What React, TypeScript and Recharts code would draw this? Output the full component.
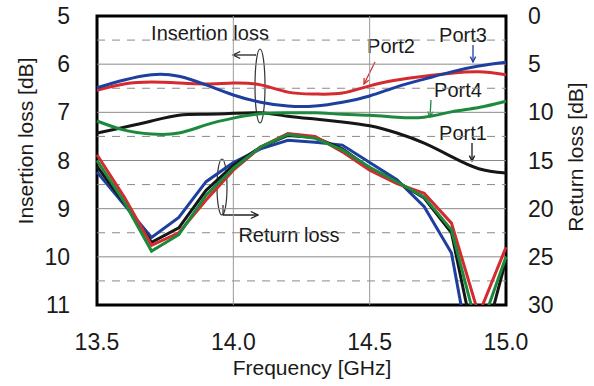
import { LineChart, Line, XAxis, YAxis, ReferenceLine, ReferenceArea } from "recharts";

// frequency points (GHz)
const freq = [13.5, 13.6, 13.7, 13.8, 13.9, 14.0, 14.1, 14.2, 14.3, 14.4, 14.5, 14.6, 14.7, 14.8, 14.9, 15.0];

// insertion loss [dB], left axis
const ilPort1 = [7.43, 7.31, 7.18, 7.06, 7.04, 7.02, 7.01, 7.08, 7.14, 7.2, 7.28, 7.43, 7.64, 7.92, 8.17, 8.26];
const ilPort2 = [6.54, 6.41, 6.37, 6.39, 6.41, 6.39, 6.43, 6.58, 6.62, 6.6, 6.45, 6.33, 6.25, 6.19, 6.16, 6.22];
const ilPort3 = [6.49, 6.33, 6.22, 6.25, 6.43, 6.64, 6.79, 6.87, 6.87, 6.79, 6.66, 6.47, 6.31, 6.16, 6.04, 5.96];
const ilPort4 = [7.18, 7.37, 7.45, 7.43, 7.26, 7.12, 7.03, 7.01, 7.01, 7.04, 7.06, 7.1, 7.1, 6.99, 6.9, 6.77];

// return loss [dB], right axis
const rlPort1 = [15.6, 19.4, 23.5, 22.0, 18.1, 15.5, 13.6, 12.4, 12.6, 13.8, 15.8, 17.2, 18.9, 22.5, 36, 25.3];
const rlPort2 = [14.4, 18.8, 23.8, 22.5, 19.1, 16.0, 13.6, 12.2, 12.5, 14.1, 16.0, 17.4, 18.4, 21.5, 31, 24.0];
const rlPort3 = [16.2, 19.6, 23.0, 20.9, 17.2, 15.2, 13.8, 12.9, 13.1, 13.4, 15.2, 17.0, 19.8, 24.6, 40, 31];
const rlPort4 = [15.0, 19.3, 24.4, 22.7, 18.6, 15.8, 13.6, 12.3, 12.7, 13.9, 15.7, 17.2, 18.8, 22.2, 33, 25.0];

const xTicks = [13.5, 14.0, 14.5, 15.0];
const ilTicks = [5, 6, 7, 8, 9, 10, 11];
const rlTicks = [0, 5, 10, 15, 20, 25, 30];
const solidGrid = [6, 7, 8, 9, 10];
const dashedGrid = [5.5, 6.5, 7.5, 8.5, 9.5, 10.5];
const vGrid = [14.0, 14.5];

const data = freq.map((f, i) => ({
  f,
  il1: ilPort1[i],
  il2: ilPort2[i],
  il3: ilPort3[i],
  il4: ilPort4[i],
  rl1: rlPort1[i],
  rl2: rlPort2[i],
  rl3: rlPort3[i],
  rl4: rlPort4[i],
}));

const BLACK = "#161616";
const RED = "#d42a30";
const BLUE = "#1f3f9e";
const GREEN = "#1c8a3c";
const FONT = "'Liberation Sans', Arial, sans-serif";
const TEXT = "#1a1a1a";

function Arrow({ x1, y1, x2, y2, color, head = 6 }: { x1: number; y1: number; x2: number; y2: number; color: string; head?: number }) {
  const a = Math.atan2(y2 - y1, x2 - x1);
  const h1x = x2 - head * Math.cos(a - 0.45);
  const h1y = y2 - head * Math.sin(a - 0.45);
  const h2x = x2 - head * Math.cos(a + 0.45);
  const h2y = y2 - head * Math.sin(a + 0.45);
  return (
    <g stroke={color} strokeWidth={1.3} fill="none">
      <line x1={x1} y1={y1} x2={x2} y2={y2} />
      <polyline points={`${h1x},${h1y} ${x2},${y2} ${h2x},${h2y}`} />
    </g>
  );
}

const tickStyle = { fontSize: 23, fill: TEXT, fontFamily: FONT };
const noteStyle = { fontSize: 20, fill: TEXT, fontFamily: FONT };

export default function App() {
  return (
    <div style={{ position: "absolute", left: 0, top: 0, background: "#fff" }}>
      <LineChart width={594} height={386} data={data} margin={{ top: 16, right: 0, bottom: 0, left: 0 }}>
        <XAxis
          dataKey="f"
          type="number"
          domain={[13.5, 15]}
          ticks={xTicks}
          tickFormatter={(v: number) => v.toFixed(1)}
          height={81}
          tickSize={0}
          tickMargin={29}
          tick={tickStyle}
          axisLine={false}
        />
        <YAxis
          yAxisId="il"
          reversed
          domain={[5, 11]}
          ticks={ilTicks}
          allowDataOverflow
          width={97}
          tickSize={0}
          tickMargin={27}
          tick={tickStyle}
          axisLine={false}
        />
        <YAxis
          yAxisId="rl"
          orientation="right"
          reversed
          domain={[0, 30]}
          ticks={rlTicks}
          allowDataOverflow
          width={88}
          tickSize={0}
          tickMargin={22}
          tick={{ ...tickStyle, textAnchor: "start" }}
          axisLine={false}
        />

        {solidGrid.map((y) => (
          <ReferenceLine key={`s${y}`} yAxisId="il" y={y} stroke="#8a8a8a" strokeWidth={1} />
        ))}
        {dashedGrid.map((y) => (
          <ReferenceLine key={`d${y}`} yAxisId="il" y={y} stroke="#8a8a8a" strokeWidth={1} strokeDasharray="8 7" />
        ))}
        {vGrid.map((x) => (
          <ReferenceLine key={`v${x}`} yAxisId="il" x={x} stroke="#9a9a9a" strokeWidth={1} />
        ))}

        <Line yAxisId="il" type="natural" dataKey="il1" stroke={BLACK} strokeWidth={3} dot={false} isAnimationActive={false} />
        <Line yAxisId="il" type="natural" dataKey="il4" stroke={GREEN} strokeWidth={3} dot={false} isAnimationActive={false} />
        <Line yAxisId="il" type="natural" dataKey="il2" stroke={RED} strokeWidth={3} dot={false} isAnimationActive={false} />
        <Line yAxisId="il" type="natural" dataKey="il3" stroke={BLUE} strokeWidth={3} dot={false} isAnimationActive={false} />

        <Line yAxisId="rl" type="linear" dataKey="rl3" stroke={BLUE} strokeWidth={3} dot={false} isAnimationActive={false} />
        <Line yAxisId="rl" type="linear" dataKey="rl1" stroke={BLACK} strokeWidth={3} dot={false} isAnimationActive={false} />
        <Line yAxisId="rl" type="linear" dataKey="rl2" stroke={RED} strokeWidth={3} dot={false} isAnimationActive={false} />
        <Line yAxisId="rl" type="linear" dataKey="rl4" stroke={GREEN} strokeWidth={3} dot={false} isAnimationActive={false} />

        <ReferenceArea yAxisId="il" x1={13.5} x2={15} y1={5} y2={11} fill="none" fillOpacity={0} stroke="#000" strokeWidth={3} />

        {/* axis titles */}
        <text x={25} y={141} transform="rotate(-90 25 141)" textAnchor="middle" dominantBaseline="central" fontSize={21} fill={TEXT} fontFamily={FONT}>
          Insertion loss [dB]
        </text>
        <text x={575} y={157} transform="rotate(-90 575 157)" textAnchor="middle" dominantBaseline="central" fontSize={21} fill={TEXT} fontFamily={FONT}>
          Return loss [dB]
        </text>
        <text x={312} y={375} textAnchor="middle" fontSize={21} fill={TEXT} fontFamily={FONT}>
          Frequency [GHz]
        </text>

        {/* insertion / return loss annotations */}
        <text x={210} y={40} textAnchor="middle" {...noteStyle}>Insertion loss</text>
        <ellipse cx={260} cy={86} rx={5} ry={37} fill="none" stroke="#333" strokeWidth={1.2} />
        <Arrow x1={256} y1={55} x2={233} y2={55} color="#222" head={8} />
        <text x={289} y={242} textAnchor="middle" {...noteStyle}>Return loss</text>
        <ellipse cx={222} cy={187} rx={5} ry={28} fill="none" stroke="#333" strokeWidth={1.2} />
        <polyline points="223,205 223,215" fill="none" stroke="#222" strokeWidth={1.2} />
        <Arrow x1={223} y1={215} x2={258} y2={215} color="#222" head={8} />

        {/* port labels */}
        <text x={391} y={53} textAnchor="middle" {...noteStyle}>Port2</text>
        <Arrow x1={375} y1={62} x2={364} y2={84} color={RED} />
        <text x={463} y={42} textAnchor="middle" {...noteStyle}>Port3</text>
        <Arrow x1={473} y1={45} x2={473} y2={62} color={BLUE} />
        <text x={458} y={97} textAnchor="middle" {...noteStyle}>Port4</text>
        <Arrow x1={431} y1={100} x2={430} y2={117} color={GREEN} />
        <text x={463} y={140} textAnchor="middle" {...noteStyle}>Port1</text>
        <Arrow x1={472} y1={143} x2={472} y2={161} color={BLACK} />
      </LineChart>
    </div>
  );
}
